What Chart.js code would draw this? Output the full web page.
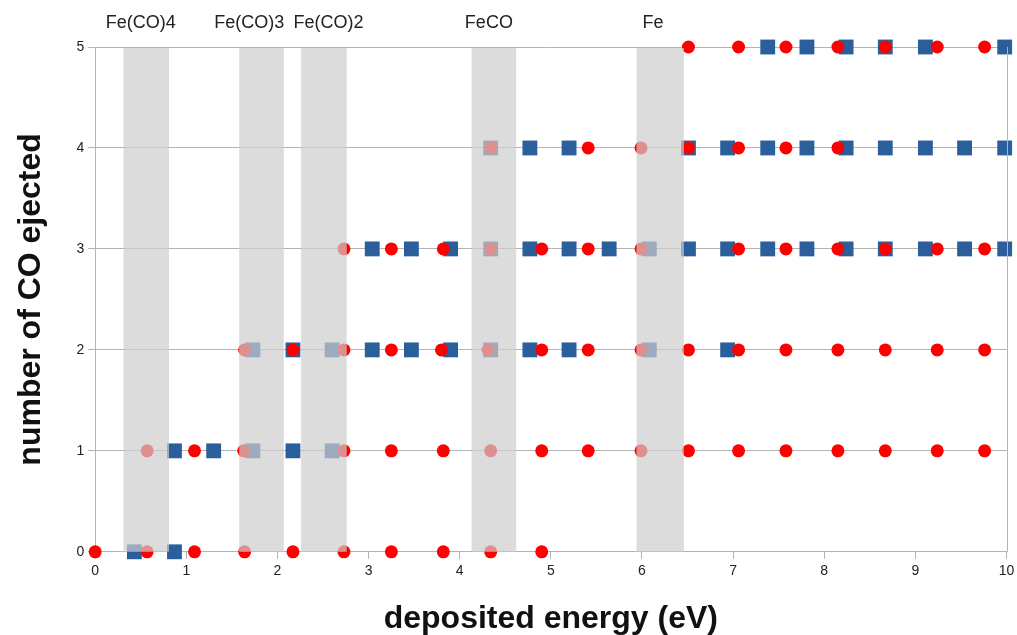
<!DOCTYPE html>
<html>
<head>
<meta charset="utf-8">
<script src="https://cdn.jsdelivr.net/npm/chart.js@4/dist/chart.umd.min.js"></script>
<style>
html, body { margin: 0; padding: 0; background: #fff; }
</style>
</head>
<body>
<canvas id="myChart" width="1017" height="635"></canvas>
<script>
'use strict';
// number of CO ejected (one row per value)
let coCounts = [0, 1, 2, 3, 4, 5];

// deposited energy (eV) of the red circles, row by row
let circleEnergies = [
    [0, 0.57, 1.09, 1.64, 2.17, 2.73, 3.25, 3.82, 4.34, 4.90],
    [0.57, 1.09, 1.63, 2.73, 3.25, 3.82, 4.34, 4.90, 5.41, 5.99, 6.51, 7.06, 7.58, 8.15, 8.67, 9.24, 9.76],
    [1.64, 2.17, 2.73, 3.25, 3.80, 4.31, 4.90, 5.41, 5.99, 6.51, 7.06, 7.58, 8.15, 8.67, 9.24, 9.76],
    [2.73, 3.25, 3.82, 4.34, 4.90, 5.41, 5.99, 7.06, 7.58, 8.15, 8.67, 9.24, 9.76],
    [4.34, 5.41, 5.99, 6.51, 7.06, 7.58, 8.15],
    [6.51, 7.06, 7.58, 8.15, 8.67, 9.24, 9.76]
];

// deposited energy (eV) of the blue squares, row by row
let squareEnergies = [
    [0.43, 0.87],
    [0.87, 1.30, 1.73, 2.17, 2.60],
    [1.73, 2.17, 2.60, 3.04, 3.47, 3.90, 4.34, 4.77, 5.20, 6.08, 6.94],
    [3.04, 3.47, 3.90, 4.34, 4.77, 5.20, 5.64, 6.08, 6.51, 6.94, 7.38, 7.81, 8.24, 8.67, 9.11, 9.54, 9.98],
    [4.34, 4.77, 5.20, 6.51, 6.94, 7.38, 7.81, 8.24, 8.67, 9.11, 9.54, 9.98],
    [7.38, 7.81, 8.24, 8.67, 9.11, 9.98]
];

// shaded energy windows, their names and where each name sits (eV)
let bandLabels = ['Fe(CO)4', 'Fe(CO)3', 'Fe(CO)2', 'FeCO', 'Fe'];
let bandFrom = [0.31, 1.58, 2.26, 4.13, 5.94];
let bandTo = [0.81, 2.07, 2.76, 4.62, 6.46];
let bandLabelAt = [0.50, 1.69, 2.56, 4.32, 6.12];

function toPoints(rows) {
    let pts = [];
    for (let i = 0; i < rows.length; i++) {
        for (let j = 0; j < rows[i].length; j++) {
            pts.push({ x: rows[i][j], y: coCounts[i] });
        }
    }
    return pts;
}

// grey bands go over the points, so markers inside them look faded
const bandPlugin = {
    id: 'bands',
    afterDatasetsDraw(chart) {
        let ctx = chart.ctx;
        let xs = chart.scales.x;
        let area = chart.chartArea;
        ctx.save();
        for (let i = 0; i < bandLabels.length; i++) {
            let l = xs.getPixelForValue(bandFrom[i]);
            let r = xs.getPixelForValue(bandTo[i]);
            ctx.fillStyle = 'rgba(205, 205, 205, 0.7)';
            ctx.fillRect(l, area.top + 1, r - l, area.bottom - area.top - 1);
            ctx.fillStyle = '#222';
            ctx.font = '18px "Liberation Sans", Arial, sans-serif';
            ctx.textAlign = 'center';
            ctx.textBaseline = 'middle';
            ctx.fillText(bandLabels[i], xs.getPixelForValue(bandLabelAt[i]), area.top - 24);
        }
        ctx.strokeStyle = '#b3b3b3';
        ctx.lineWidth = 1;
        ctx.beginPath();
        ctx.moveTo(Math.round(area.right) + 0.5, area.top);
        ctx.lineTo(Math.round(area.right) + 0.5, area.bottom);
        ctx.stroke();
        ctx.restore();
    }
};

function chartRender() {
    let ctx = document.getElementById('myChart').getContext('2d');
    new Chart(ctx, {
        type: 'scatter',
        data: {
            datasets: [{
                label: 'squares',
                data: toPoints(squareEnergies),
                order: 2,
                pointStyle: 'rect',
                pointRadius: 10.5,
                backgroundColor: '#2a5f9c',
                borderColor: '#2a5f9c',
                borderWidth: 0,
                clip: false
            }, {
                label: 'circles',
                data: toPoints(circleEnergies),
                order: 1,
                pointStyle: 'circle',
                pointRadius: 6.5,
                backgroundColor: '#ff0000',
                borderColor: '#ff0000',
                borderWidth: 0,
                clip: false
            }]
        },
        options: {
            responsive: false,
            animation: false,
            layout: { padding: { top: 47, right: 0, left: 12, bottom: 0 } },
            plugins: {
                legend: { display: false },
                tooltip: { enabled: false }
            },
            scales: {
                x: {
                    type: 'linear',
                    min: 0,
                    max: 10,
                    ticks: { stepSize: 1, padding: 0, color: '#222', font: { size: 14, lineHeight: 1.8, family: '"Liberation Sans", Arial, sans-serif' } },
                    grid: { drawOnChartArea: false, drawTicks: true, tickLength: 7, color: '#b3b3b3' },
                    border: { color: '#b3b3b3' },
                    title: {
                        display: true,
                        text: 'deposited energy (eV)',
                        color: '#111',
                        font: { size: 32, weight: 'bold', lineHeight: 1.0, family: '"Liberation Sans", Arial, sans-serif' },
                        padding: { top: 19, bottom: 0 }
                    }
                },
                y: {
                    min: 0,
                    max: 5,
                    ticks: { stepSize: 1, color: '#222', padding: 4, font: { size: 14, family: '"Liberation Sans", Arial, sans-serif' } },
                    grid: { color: '#b3b3b3', tickLength: 7 },
                    border: { color: '#b3b3b3' },
                    title: {
                        display: true,
                        text: 'number of CO ejected',
                        color: '#111',
                        font: { size: 32, weight: 'bold', family: '"Liberation Sans", Arial, sans-serif' },
                        padding: { top: 0, bottom: 22 }
                    }
                }
            }
        },
        plugins: [bandPlugin]
    });
}

chartRender();
</script>
</body>
</html>
